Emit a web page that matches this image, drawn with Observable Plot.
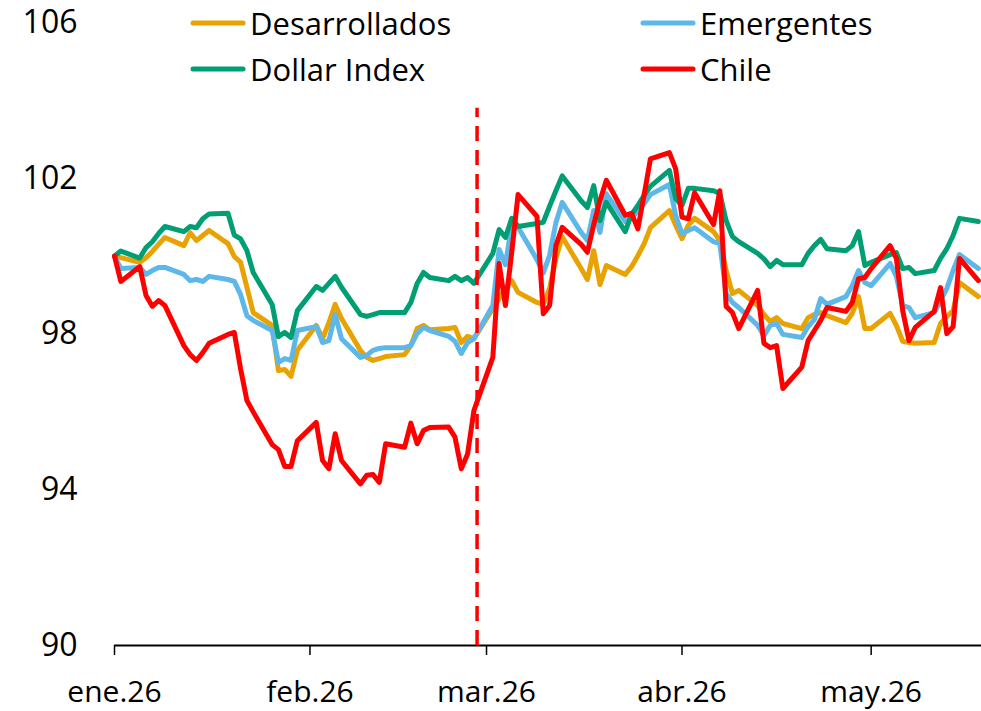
<!DOCTYPE html>
<html><head><meta charset="utf-8">
<script src="https://cdn.jsdelivr.net/npm/d3@7"></script>
<script src="https://cdn.jsdelivr.net/npm/@observablehq/plot@0.6"></script>
<style>
html,body{margin:0;padding:0;background:#fff;}
#chart{position:relative;width:981px;height:711px;overflow:hidden;}
#legend{position:absolute;left:0;top:0;}
</style></head><body><div id="chart"></div>
<script>
const dates = ["01-01","01-02","01-05","01-06","01-07","01-08","01-09","01-12","01-13","01-14","01-15","01-16","01-19","01-20","01-21","01-22","01-23","01-26","01-27","01-28","01-29","01-30",
"02-02","02-03","02-04","02-05","02-06","02-09","02-10","02-11","02-12","02-13","02-16","02-17","02-18","02-19","02-20","02-23","02-24","02-25","02-26","02-27",
"03-02","03-03","03-04","03-05","03-06","03-09","03-10","03-11","03-12","03-13","03-16","03-17","03-18","03-19","03-20","03-23","03-24","03-25","03-26","03-27","03-30","03-31",
"04-01","04-02","04-03","04-06","04-07","04-08","04-09","04-10","04-13","04-14","04-15","04-16","04-17","04-20","04-21","04-22","04-23","04-24","04-27","04-28","04-29","04-30",
"05-01","05-04","05-05","05-06","05-07","05-08","05-11","05-12","05-13","05-14","05-15","05-18"];

const desarrollados = [100, 99.96, 99.84, 99.96, 100.12, 100.3, 100.48, 100.27, 100.6, 100.4, 100.53, 100.66, 100.32, 99.99, 99.84, 99.2, 98.55, 98.22, 97.06, 97.09, 96.91, 97.58,
98.22, 97.88, 98.29, 98.76, 98.4, 97.58, 97.4, 97.32, 97.37, 97.42, 97.47, 97.7, 98.14, 98.22, 98.11, 98.14, 98.17, 97.78, 97.94, 97.88,
98.65, 98.91, 99.17, 99.37, 99.07, 98.81, 98.76, 99.17, 99.94, 100.5, 99.68, 99.4, 100.14, 99.27, 99.76, 99.53, 99.73, 100.01, 100.32, 100.73, 101.17, 100.79,
100.45, 100.79, 100.97, 100.63, 100.4, 99.63, 99.04, 99.12, 98.73, 98.5, 98.32, 98.42, 98.27, 98.14, 98.42, 98.5, 98.55, 98.47, 98.29, 98.53, 98.96, 98.14,
98.14, 98.53, 98.22, 97.81, 97.78, 97.76, 97.78, 98.27, 98.45, 98.6, 99.32, 98.96];

const emergentes = [100, 99.68, 99.71, 99.53, 99.63, 99.71, 99.71, 99.53, 99.37, 99.4, 99.35, 99.48, 99.4, 99.35, 99.01, 98.47, 98.35, 98.09, 97.27, 97.37, 97.32, 98.09,
98.19, 97.78, 97.83, 98.5, 97.88, 97.4, 97.45, 97.58, 97.63, 97.65, 97.65, 97.7, 98.01, 98.17, 98.09, 97.94, 97.81, 97.5, 97.78, 97.88,
98.73, 100.17, 99.78, 100.81, 100.74, 99.91, 99.57, 100.02, 100.86, 101.38, 100.61, 100.4, 101.17, 100.61, 101.6, 100.89, 100.97, 101.17, 101.35, 101.58, 101.84, 101.04,
100.58, 100.66, 100.73, 100.37, 100.32, 99.04, 98.81, 98.68, 98.22, 97.96, 98.22, 98.27, 97.99, 97.91, 98.19, 98.37, 98.91, 98.76, 98.96, 99.24, 99.63, 99.32,
99.24, 99.81, 99.48, 98.73, 98.68, 98.42, 98.55, 98.86, 99.17, 99.63, 100.04, 99.68];

const dollarIndex = [100, 100.13, 99.95, 100.22, 100.37, 100.58, 100.76, 100.63, 100.76, 100.73, 100.96, 101.08, 101.1, 100.54, 100.44, 100.14, 99.58, 98.76, 97.93, 98.04, 97.91, 98.6,
99.22, 99.12, 99.3, 99.48, 99.2, 98.5, 98.45, 98.5, 98.55, 98.55, 98.55, 98.81, 99.3, 99.58, 99.45, 99.37, 99.48, 99.37, 99.45, 99.3,
100.07, 100.68, 100.48, 100.97, 100.76, 100.84, 100.87, 101.28, 101.68, 102.06, 101.42, 101.25, 101.81, 100.91, 101.38, 100.63, 101.07, 101.3, 101.56, 101.79, 102.2, 101.48,
101.3, 101.74, 101.74, 101.68, 101.61, 100.91, 100.5, 100.37, 100.07, 99.93, 99.73, 99.89, 99.78, 99.78, 100.07, 100.27, 100.43, 100.19, 100.14, 100.27, 100.63, 99.76,
99.84, 100.04, 100.09, 99.68, 99.71, 99.55, 99.63, 99.94, 100.19, 100.53, 100.97, 100.89];

const chile = [100, 99.35, 99.73, 98.99, 98.71, 98.86, 98.73, 97.7, 97.47, 97.32, 97.52, 97.76, 97.99, 98.04, 97.1, 96.29, 96.0, 95.16, 95.03, 94.6, 94.6, 95.26,
95.73, 94.75, 94.54, 95.44, 94.75, 94.15, 94.37, 94.39, 94.19, 95.18, 95.09, 95.71, 95.18, 95.52, 95.6, 95.61, 95.35, 94.54, 94.92, 96.03,
97.4, 99.81, 98.73, 100.1, 101.58, 101.02, 98.52, 98.73, 100.27, 100.74, 100.3, 100.1, 100.81, 101.43, 101.95, 101.05, 101.1, 100.7, 101.58, 102.5, 102.66, 102.24,
101.0, 100.96, 101.63, 100.81, 101.68, 98.71, 98.55, 98.14, 99.12, 97.76, 97.65, 97.7, 96.6, 97.15, 97.83, 98.09, 98.35, 98.68, 98.58, 98.81, 99.42, 99.45,
99.68, 100.27, 99.94, 98.6, 97.83, 98.17, 98.58, 99.19, 98.01, 98.19, 99.94, 99.37];

const seriesNames = ["Desarrollados", "Emergentes", "Dollar Index", "Chile"];
const seriesColors = ["#E8A202", "#5DB7E8", "#009E73", "#FF0000"];
const tickDates = ["2026-01-01", "2026-02-01", "2026-03-01", "2026-04-01", "2026-05-01"];
const tickLabels = ["ene.26", "feb.26", "mar.26", "abr.26", "may.26"];
const yTicks = [90, 94, 98, 102, 106];
const eventDate = "2026-02-27T12:00";

const parse = s => new Date("2026-" + s + "T00:00Z");
const valueArrays = [desarrollados, emergentes, dollarIndex, chile];
const rows = [];
valueArrays.forEach((arr, k) => arr.forEach((v, i) => rows.push({date: parse(dates[i]), value: v, series: seriesNames[k]})));
const ticks = tickDates.map(d => new Date(d + "T00:00Z"));
const font = "'Open Sans', sans-serif";

const chart = Plot.plot({
  width: 981, height: 711,
  marginLeft: 114, marginRight: 0, marginTop: 22, marginBottom: 66,
  style: {fontFamily: font, fontSize: "32px", color: "#000", background: "#fff", overflow: "visible"},
  x: {type: "utc", domain: [new Date("2026-01-01T00:00Z"), new Date("2026-05-18T12:00Z")]},
  y: {domain: [90, 106]},
  color: {domain: seriesNames, range: seriesColors},
  marks: [
    Plot.axisY({ticks: yTicks, tickSize: 0, tickPadding: 37, fontSize: 32, label: null, tickFormat: d => String(d)}),
    Plot.axisX({ticks: ticks, tickFormat: d => tickLabels[ticks.findIndex(t => +t === +d)], tickSize: 10, tickPadding: 25, fontSize: 30, label: null, strokeWidth: 1.5}),
    Plot.ruleY([90], {stroke: "#000", strokeWidth: 2}),
    Plot.lineY(rows, {x: "date", y: "value", z: "series", stroke: "series", strokeWidth: 5, strokeLinejoin: "round", strokeLinecap: "round"}),
    Plot.ruleX([new Date(eventDate + "Z")], {y1: 90, y2: 103.8, stroke: "#FF0000", strokeWidth: 3.5, strokeDasharray: "15,9"})
  ]
});
const container = document.getElementById("chart");
container.appendChild(chart);

// legend overlay
const legendItems = [
  {name: seriesNames[0], color: seriesColors[0], x: 191, y: 23},
  {name: seriesNames[1], color: seriesColors[1], x: 641, y: 23},
  {name: seriesNames[2], color: seriesColors[2], x: 191, y: 69},
  {name: seriesNames[3], color: seriesColors[3], x: 641, y: 69}
];
const leg = d3.select(container).append("svg").attr("id", "legend").attr("width", 981).attr("height", 100);
const g = leg.selectAll("g").data(legendItems).join("g");
g.append("line").attr("x1", d => d.x + 2).attr("x2", d => d.x + 52).attr("y1", d => d.y).attr("y2", d => d.y)
  .attr("stroke", d => d.color).attr("stroke-width", 5).attr("stroke-linecap", "round");
g.append("text").attr("x", d => d.x + 59).attr("y", d => d.y + 12).text(d => d.name)
  .attr("font-family", font).attr("font-size", 31).attr("fill", "#000");
</script></body></html>
